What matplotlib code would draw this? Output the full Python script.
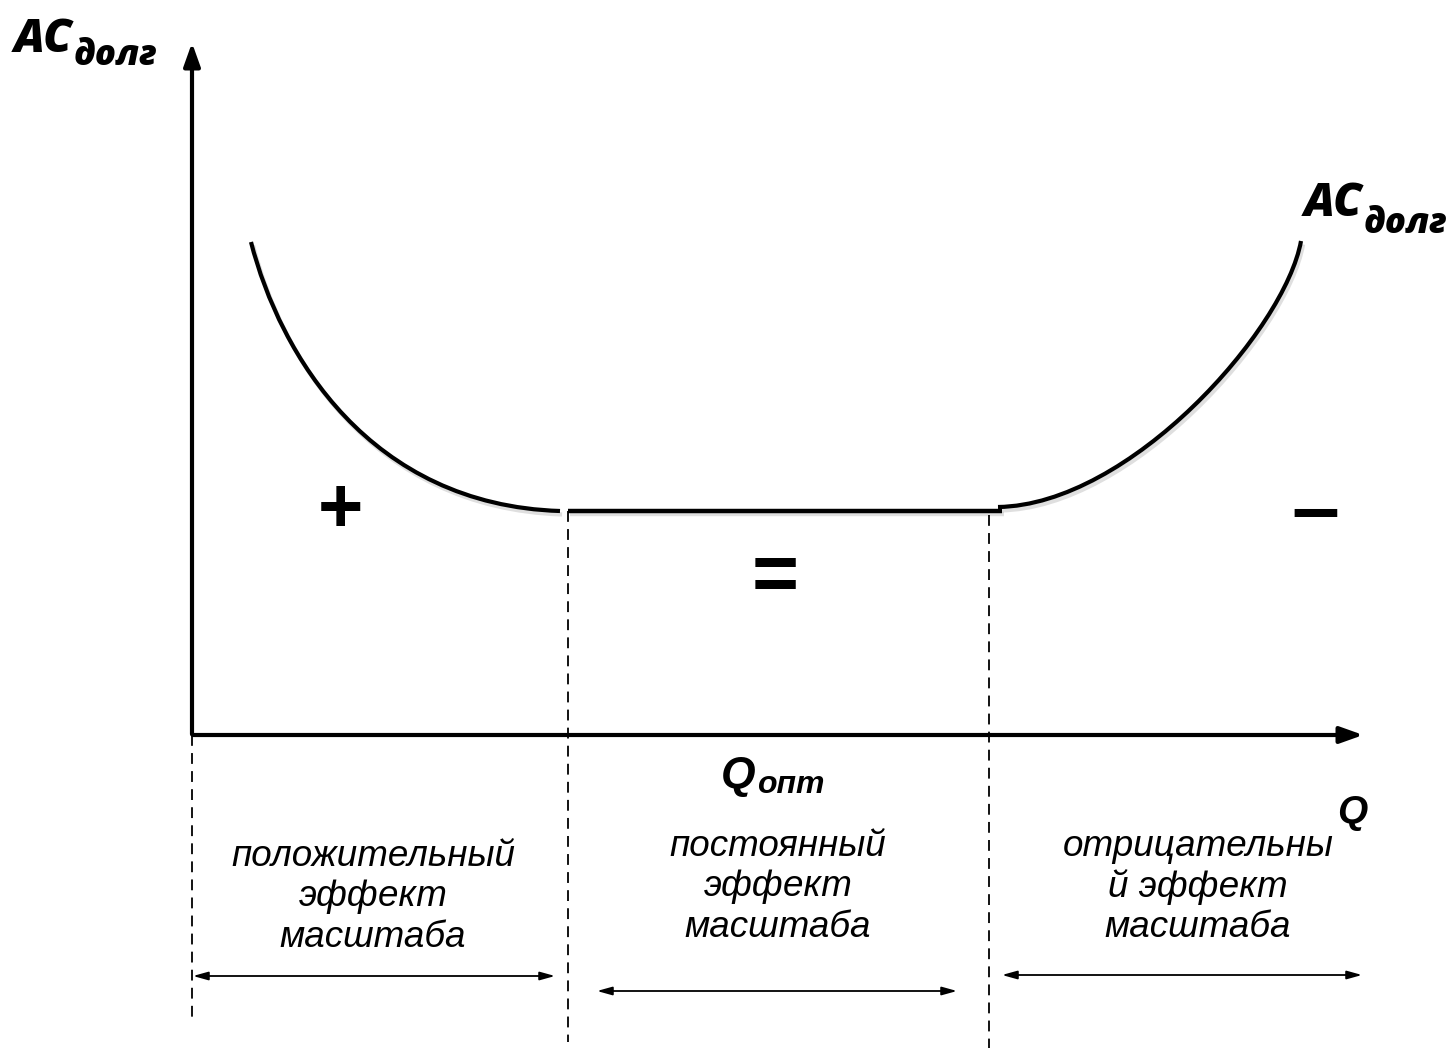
import matplotlib
matplotlib.use('Agg')
from matplotlib import pyplot as plt
from matplotlib import patheffects as pe
from matplotlib.path import Path
from matplotlib.patches import PathPatch

# points (pixel coords, y down)
# each arc: start, two bezier control points, end
left_arc = [(251, 242), (280, 355), (370, 505), (560, 511)]
flat_x = [568, 1002]
flat_y = [511, 511]
right_arc = [(998, 507), (1130, 505), (1285, 330), (1301, 241)]

dash_x = [192, 568, 989]
dash_top = [735, 511, 515]
dash_bottom = [1022, 1042, 1048]

span_left = [193, 597, 1002]
span_right = [555, 957, 1362]
span_y = [976, 991, 975]

labels = ["положительный\nэффект\nмасштаба",
          "постоянный\nэффект\nмасштаба",
          "отрицательны\nй эффект\nмасштаба"]
label_x = [373, 778, 1198]
label_y = [897, 887, 887]

fig = plt.figure(figsize=(14.56, 10.48), dpi=100)
ax = fig.add_axes([0, 0, 1, 1])
ax.set_xlim(0, 1456)
ax.set_ylim(1048, 0)
ax.axis('off')

# axes with arrows
ax.annotate('', xy=(192, 40), xytext=(192, 737),
            arrowprops=dict(arrowstyle='-|>,head_length=1.4,head_width=0.5', lw=3, color='black'))
ax.annotate('', xy=(1366, 735), xytext=(190, 735),
            arrowprops=dict(arrowstyle='-|>,head_length=1.4,head_width=0.5', lw=3, color='black'))

shadow = [pe.SimpleLineShadow(offset=(1.5, -2.5), alpha=0.25, shadow_color='gray'), pe.Normal()]
codes = [Path.MOVETO, Path.CURVE4, Path.CURVE4, Path.CURVE4]
for pts in (left_arc, right_arc):
    ax.add_patch(PathPatch(Path(pts, codes), fill=False, edgecolor='black', lw=3,
                           capstyle='butt', path_effects=shadow))
ax.plot(flat_x, flat_y, color='black', lw=3.2, solid_capstyle='butt', path_effects=shadow)

for x, t, b in zip(dash_x, dash_top, dash_bottom):
    ax.plot([x, x], [t, b], color='black', lw=1.3, ls=(0, (6, 4)))

for l, r, y in zip(span_left, span_right, span_y):
    ax.annotate('', xy=(r, y), xytext=(l, y),
                arrowprops=dict(arrowstyle='<|-|>,head_length=0.9,head_width=0.25', lw=1.3,
                                color='black', shrinkA=0, shrinkB=0))

for txt, x, y in zip(labels, label_x, label_y):
    ax.text(x, y, txt, ha='center', va='center', fontsize=26.5, style='italic',
            family='Liberation Sans', linespacing=1.2)

# AC labels
ob = dict(family='Open Sans', weight=800, style='italic')
ax.text(14, 52, 'AC', fontsize=33, va='baseline', **ob)
ax.text(74, 65, 'долг', fontsize=25, va='baseline', **ob)
ax.text(1304, 216, 'AC', fontsize=33, va='baseline', **ob)
ax.text(1364, 233, 'долг', fontsize=25, va='baseline', **ob)

lb = dict(family='Liberation Sans', weight='bold', style='italic')
ax.text(721, 788, 'Q', fontsize=32, va='baseline', **lb)
ax.text(757, 793, 'опт', fontsize=23, va='baseline', **lb)
ax.text(1337, 823, 'Q', fontsize=28, va='baseline', **lb)

sb = dict(family='Liberation Sans', weight='bold', ha='center', va='center')
ax.text(340, 512, '+', fontsize=56, **sb)
ax.text(775, 580, '=', fontsize=58, **sb)
ax.text(1315, 514, '–', fontsize=62, **sb)

fig.savefig('out.png', dpi=100)
